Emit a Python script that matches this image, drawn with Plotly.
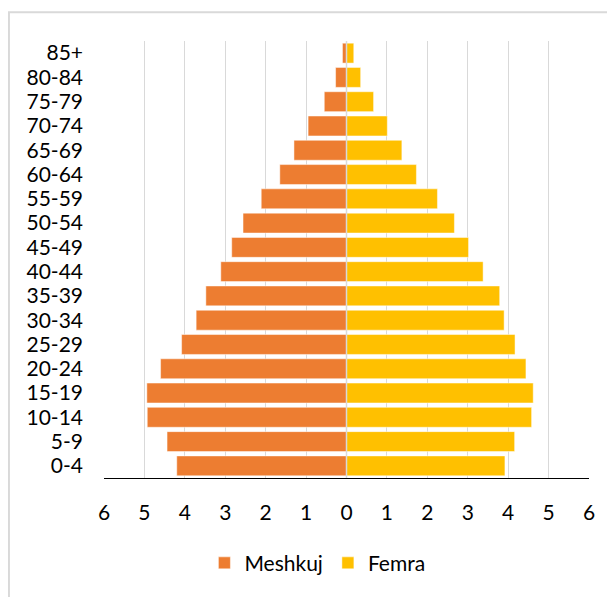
import plotly.graph_objects as go

age_groups = ["0-4", "5-9", "10-14", "15-19", "20-24", "25-29", "30-34", "35-39",
              "40-44", "45-49", "50-54", "55-59", "60-64", "65-69", "70-74",
              "75-79", "80-84", "85+"]
male = [4.20, 4.44, 4.93, 4.94, 4.60, 4.08, 3.72, 3.48, 3.11, 2.84, 2.56, 2.11,
        1.65, 1.30, 0.95, 0.55, 0.27, 0.10]
female = [3.92, 4.16, 4.58, 4.62, 4.44, 4.17, 3.90, 3.79, 3.38, 3.02, 2.67, 2.25,
          1.73, 1.37, 1.01, 0.67, 0.35, 0.18]
tick_values = [-6, -5, -4, -3, -2, -1, 0, 1, 2, 3, 4, 5, 6]
tick_labels = ["6", "5", "4", "3", "2", "1", "0", "1", "2", "3", "4", "5", "6"]

FONT = "Lato"
ORANGE = "#ED7D31"
YELLOW = "#FFC000"

fig = go.Figure()
fig.add_trace(go.Bar(
    y=age_groups, x=[-v for v in male], orientation="h", name="Meshkuj",
    marker=dict(color=ORANGE, line=dict(color="rgba(255,255,255,0.6)", width=0.8)),
))
fig.add_trace(go.Bar(
    y=age_groups, x=female, orientation="h", name="Femra",
    marker=dict(color=YELLOW, line=dict(color="rgba(255,255,255,0.6)", width=0.8)),
))

# page body has an 8px margin, so the figure is drawn 8px smaller and offset
fig.update_layout(
    width=607, height=589,
    margin=dict(l=96, r=26, t=33, b=119),
    barmode="relative", bargap=0.18,
    paper_bgcolor="white", plot_bgcolor="white",
    font=dict(family=FONT, size=21, color="#000000"),
    showlegend=True,
    legend=dict(orientation="h", x=0.44, xanchor="center", y=-0.195, yanchor="middle",
                font=dict(family=FONT, size=21, color="#000000"),
                traceorder="normal", itemwidth=30),
    xaxis=dict(range=[-6, 6], tickmode="array", tickvals=tick_values, ticktext=tick_labels,
               showgrid=True, gridcolor="#d9d9d9", gridwidth=1.3,
               zeroline=False, showline=True, linecolor="#000000", linewidth=1,
               ticks="", ticklabelstandoff=16, fixedrange=True),
    yaxis=dict(showgrid=False, zeroline=False, showline=False, ticks="",
               tickmode="array", tickvals=age_groups, ticktext=age_groups,
               ticklabelstandoff=20, type="category", fixedrange=True),
    shapes=[
        dict(type="line", xref="x", yref="paper", x0=0, x1=0, y0=0, y1=1,
             line=dict(color="#d9d9d9", width=1.5), layer="above"),
        dict(type="rect", xref="paper", yref="paper", x0=-0.196, x1=1.1,
             y0=-0.3, y1=1.066, line=dict(color="#d9d9d9", width=2),
             fillcolor="rgba(0,0,0,0)", layer="below"),
    ],
)

fig.write_html("out.html")
